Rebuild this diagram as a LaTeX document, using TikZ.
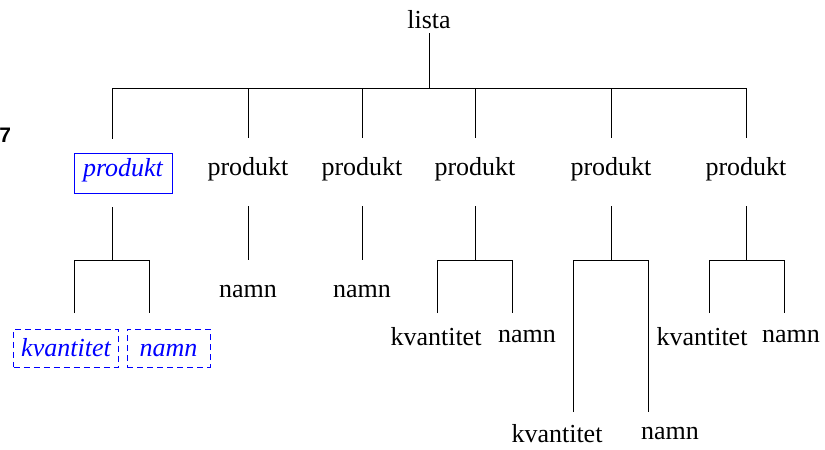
\documentclass[tikz,border=0pt]{standalone}
\usepackage{fontspec}
\setmainfont{Liberation Serif}
\newfontfamily\labelsans{Liberation Sans}
\begin{document}
\begin{tikzpicture}[x=1pt,y=-1pt,line width=0.9pt,
  every node/.style={font=\fontsize{26}{30}\selectfont, inner sep=0pt},
  prod/.style={inner xsep=9pt, inner ysep=0pt, text height=23pt, text depth=17pt, outer ysep=14pt, anchor=base},
  leaf/.style={anchor=base, text height=18pt, text depth=0pt},
  sel/.style={draw=blue, text=blue, font=\fontsize{26}{30}\selectfont\itshape},
  dbox/.style={draw=blue, text=blue, dash pattern=on 6pt off 4pt, font=\fontsize{26}{30}\selectfont\itshape,
               text height=27pt, text depth=11pt, inner ysep=0pt, anchor=base, outer ysep=16pt}
]
\useasboundingbox (0,0) rectangle (825,450);

% label at left edge
\node[font=\labelsans\bfseries\fontsize{21}{25}\selectfont, anchor=base west] (num) at (-1,142) {7};

% root
\node[leaf, outer ysep=5pt] (lista) at (429,28) {lista};

% top bar coordinates
\coordinate (T1) at (112,88);
\coordinate (T2) at (248,88);
\coordinate (T3) at (362,88);
\coordinate (T4) at (475,88);
\coordinate (T5) at (611,88);
\coordinate (T6) at (746,88);

% produkt nodes
\node[prod, sel] (p1) at (123,176) {produkt};
\node[prod] (p2) at (248,175) {produkt};
\node[prod] (p3) at (362,175) {produkt};
\node[prod] (p4) at (475,175) {produkt};
\node[prod] (p5) at (611,175) {produkt};
\node[prod] (p6) at (746,175) {produkt};

% lower bar coordinates
\coordinate (B1) at (112,260);
\coordinate (B4) at (475,260);
\coordinate (B5) at (611,260);
\coordinate (B6) at (746,260);
\coordinate (G1a) at (74,260);
\coordinate (G1b) at (149,260);
\coordinate (G4a) at (437,260);
\coordinate (G4b) at (512,260);
\coordinate (G5a) at (573,260);
\coordinate (G5b) at (648,260);
\coordinate (G6a) at (709,260);
\coordinate (G6b) at (784,260);

% leaves
\node[dbox, inner xsep=7.5pt] (k1) at (66,356) {kvantitet};
\node[dbox, minimum width=83pt] (n1) at (168.5,356) {namn};
\node[leaf, outer ysep=19pt] (n2) at (248,297) {namn};
\node[leaf, outer ysep=19pt] (n3) at (362,297) {namn};
\node[leaf, outer ysep=14pt] (k4) at (436,345) {kvantitet};
\node[leaf, outer ysep=11pt] (n4) at (527,342) {namn};
\node[leaf, outer ysep=12pt] (k5) at (557,442) {kvantitet};
\node[leaf, outer ysep=9pt] (n5) at (670,439) {namn};
\node[leaf, outer ysep=14pt] (k6) at (702,345) {kvantitet};
\node[leaf, outer ysep=11pt] (n6) at (791,342) {namn};

% connectors
\draw (lista) -- (lista |- T1);
\draw (T1) -- (T6);
\draw (T1) -- (T1 |- p1.north);
\draw (T2) -- (p2);
\draw (T3) -- (p3);
\draw (T4) -- (p4);
\draw (T5) -- (p5);
\draw (T6) -- (p6);

\draw (B1 |- p1.south) -- (B1);
\draw (G1a |- k1.north) -- (G1a) -- (G1b) -- (G1b |- n1.north);
\draw (p2) -- (n2);
\draw (p3) -- (n3);
\draw (p4) -- (B4);
\draw (G4a |- k4.north) -- (G4a) -- (G4b) -- (G4b |- n4.north);
\draw (p5) -- (B5);
\draw (G5a |- k5.north) -- (G5a) -- (G5b) -- (G5b |- n5.north);
\draw (p6) -- (B6);
\draw (G6a |- k6.north) -- (G6a) -- (G6b) -- (G6b |- n6.north);
\end{tikzpicture}
\end{document}
